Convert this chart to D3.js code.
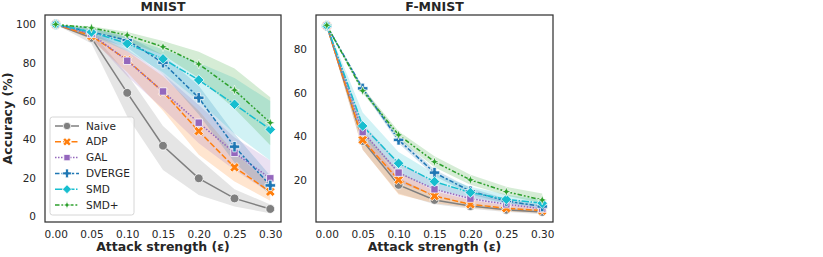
<!DOCTYPE html>
<html><head><meta charset="utf-8">
<script src="https://cdn.jsdelivr.net/npm/d3@7"></script>
<style>body{margin:0;background:#fff}svg{display:block}text{font-family:"DejaVu Sans",sans-serif;fill:#262626}</style>
</head><body><svg id="c" width="823" height="257"></svg>
<script>
const eps = [0.00, 0.05, 0.10, 0.15, 0.20, 0.25, 0.30];
const xTicks = [0.00, 0.05, 0.10, 0.15, 0.20, 0.25, 0.30];
const mnistYTicks = [0, 20, 40, 60, 80, 100];
const fmnistYTicks = [20, 40, 60, 80];
const methods = ["Naive", "ADP", "GAL", "DVERGE", "SMD", "SMD+"];

// MNIST means and bands
const mnistNaive   = [100, 93, 64.3, 36.7, 19.7, 9.2, 3.7];
const mnistNaiveLo = [100, 90, 52, 24, 11, 5, 1.5];
const mnistNaiveHi = [100, 96, 74, 47, 30, 14, 6];
const mnistADP     = [100, 94, 81.4, 64.8, 44.3, 25.4, 12.7];
const mnistADPLo   = [100, 92, 75, 55, 32, 18, 8];
const mnistADPHi   = [100, 96, 86, 73, 55, 33, 17];
const mnistGAL     = [100, 95, 81, 65, 48.7, 33, 19.7];
const mnistGALLo   = [100, 93, 73, 56, 38, 24, 12];
const mnistGALHi   = [100, 97, 87, 74, 58, 41, 29];
const mnistDVERGE  = [100, 96, 91.8, 80, 61.7, 36.2, 16];
const mnistDVERGELo= [100, 94, 88, 74, 53, 28, 11];
const mnistDVERGEHi= [100, 98, 94, 84, 68, 43, 21];
const mnistSMD     = [100, 96, 90, 82, 71, 58.3, 45.2];
const mnistSMDLo   = [100, 94, 86, 75, 60, 43, 29];
const mnistSMDHi   = [100, 98, 93, 87, 80, 72, 60];
const mnistSMDp    = [100, 98.2, 94.4, 88.3, 79.3, 65.7, 48.7];
const mnistSMDpLo  = [100, 97, 91, 84, 72, 56, 37];
const mnistSMDpHi  = [100, 99, 96, 91.3, 85.7, 77, 62];

// F-MNIST means and bands
const fmNaive    = [90.8, 38, 17.9, 11, 8.2, 6.5, 5.5];
const fmNaiveLo  = [90.5, 34, 14, 9, 7, 5.5, 4.5];
const fmNaiveHi  = [91.1, 42, 21, 13, 9.5, 7.5, 6.5];
const fmADP      = [90.8, 38.5, 20.2, 12.8, 9, 7.2, 6.1];
const fmADPLo    = [90.5, 34, 13.5, 9.5, 7.5, 5.8, 5];
const fmADPHi    = [91.1, 43, 24, 15, 11, 8.5, 7.2];
const fmGAL      = [90.8, 42.1, 23.5, 15.9, 11.6, 9, 7];
const fmGALLo    = [90.5, 38, 19, 13, 9.5, 7.5, 6];
const fmGALHi    = [91.1, 46, 28, 19, 14, 10.5, 8.5];
const fmDVERGE   = [90.8, 62.1, 38.5, 23.5, 15, 10.5, 8];
const fmDVERGELo = [90.5, 61, 37, 22, 13.5, 9.5, 7];
const fmDVERGEHi = [91.1, 63, 40, 25, 16.5, 11.5, 9];
const fmSMD      = [90.8, 44.9, 27.8, 19.4, 14.4, 11.3, 9.5];
const fmSMDLo    = [90.5, 40, 23, 16, 12, 9.5, 8];
const fmSMDHi    = [91.1, 51, 33, 23, 17, 13.5, 11];
const fmSMDp     = [91, 61, 40.8, 28.5, 20.2, 14.8, 11];
const fmSMDpLo   = [90.7, 60, 39, 26, 18, 13, 9.5];
const fmSMDpHi   = [91.3, 62.5, 42.5, 31, 22.5, 17, 14];

const colors = ["#7f7f7f", "#ff7f0e", "#9467bd", "#1f77b4", "#17becf", "#2ca02c"];
const dashes = ["", "6,2.25", "1.5,1.5", "4.5,1.9,2.25,1.9", "7.5,1.5,1.5,1.5", "4.5,1.9,1.9,1.9,1.9,1.9"];

const mnistSeries = [
  [mnistNaive, mnistNaiveLo, mnistNaiveHi], [mnistADP, mnistADPLo, mnistADPHi],
  [mnistGAL, mnistGALLo, mnistGALHi], [mnistDVERGE, mnistDVERGELo, mnistDVERGEHi],
  [mnistSMD, mnistSMDLo, mnistSMDHi], [mnistSMDp, mnistSMDpLo, mnistSMDpHi]];
const fmSeries = [
  [fmNaive, fmNaiveLo, fmNaiveHi], [fmADP, fmADPLo, fmADPHi],
  [fmGAL, fmGALLo, fmGALHi], [fmDVERGE, fmDVERGELo, fmDVERGEHi],
  [fmSMD, fmSMDLo, fmSMDHi], [fmSMDp, fmSMDpLo, fmSMDpHi]];

// marker shapes (radius r)
function poly(ctx, pts){ctx.moveTo(pts[0][0],pts[0][1]);for(let i=1;i<pts.length;i++)ctx.lineTo(pts[i][0],pts[i][1]);ctx.closePath();}
function crossPts(r, w, rot){
  const base=[[w,r],[w,w],[r,w],[r,-w],[w,-w],[w,-r],[-w,-r],[-w,-w],[-r,-w],[-r,w],[-w,w],[-w,r]];
  const c=Math.cos(rot), s=Math.sin(rot);
  return base.map(([x,y])=>[x*c-y*s, x*s+y*c]);
}
const shapes = [
  {draw(ctx,r){ctx.moveTo(r,0);ctx.arc(0,0,r,0,2*Math.PI);}},
  {draw(ctx,r){poly(ctx,crossPts(r*1.05,r*0.36,Math.PI/4));}},
  {draw(ctx,r){const a=r*0.8;poly(ctx,[[-a,-a],[a,-a],[a,a],[-a,a]]);}},
  {draw(ctx,r){poly(ctx,crossPts(r,r*0.33,0));}},
  {draw(ctx,r){const a=r*1.15;poly(ctx,[[0,-a],[a,0],[0,a],[-a,0]]);}},
  {draw(ctx,r){const a=r*1.05,b=a*0.38;const p=[];for(let i=0;i<8;i++){const ang=-Math.PI/2+i*Math.PI/4;const rr=i%2?b:a;p.push([rr*Math.cos(ang),rr*Math.sin(ang)]);}poly(ctx,p);}}
];
const msize = [4.4, 4.8, 4.6, 5.2, 4.6, 4.6];

const svg = d3.select("#c");

function panel(box, yDomain, yTicks, series, title, showYLabel, showLegend){
  const x = d3.scaleLinear().domain([-0.015, 0.315]).range([box.x0, box.x1]);
  const y = d3.scaleLinear().domain(yDomain).range([box.y1, box.y0]);
  const g = svg.append("g");
  const clipId = "clip"+title.replace(/\W/g,"");
  svg.append("clipPath").attr("id",clipId).append("rect")
    .attr("x",box.x0).attr("y",box.y0).attr("width",box.x1-box.x0).attr("height",box.y1-box.y0);
  const plot = g.append("g").attr("clip-path",`url(#${clipId})`);
  series.forEach((s,i)=>{
    const area = d3.area().x((d,j)=>x(eps[j])).y0((d,j)=>y(s[1][j])).y1((d,j)=>y(s[2][j]));
    plot.append("path").attr("d",area(eps)).attr("fill",colors[i]).attr("fill-opacity",0.2).attr("stroke","none");
  });
  series.forEach((s,i)=>{
    const line = d3.line().x((d,j)=>x(eps[j])).y(d=>y(d));
    plot.append("path").attr("d",line(s[0])).attr("fill","none").attr("stroke",colors[i])
      .attr("stroke-width",1.5).attr("stroke-dasharray",dashes[i]||null);
  });
  series.forEach((s,i)=>{
    const sym = d3.symbol().type(shapes[i]).size(msize[i]);
    plot.selectAll(null).data(s[0]).join("path")
      .attr("d",sym()).attr("transform",(d,j)=>`translate(${x(eps[j])},${y(d)})`)
      .attr("fill",colors[i]).attr("stroke","#fff").attr("stroke-width",0.75);
  });
  const xa = d3.axisBottom(x).tickValues(xTicks).tickFormat(d3.format(".2f")).tickSize(0).tickPadding(9);
  const ya = d3.axisLeft(y).tickValues(yTicks).tickFormat(d3.format("d")).tickSize(0).tickPadding(9);
  g.append("g").attr("transform",`translate(0,${box.y1})`).call(xa)
    .call(a=>a.select(".domain").remove())
    .selectAll("text").attr("font-size",10.5).attr("fill","#262626").attr("font-family","DejaVu Sans");
  g.append("g").attr("transform",`translate(${box.x0},0)`).call(ya)
    .call(a=>a.select(".domain").remove())
    .selectAll("text").attr("font-size",10.5).attr("fill","#262626").attr("font-family","DejaVu Sans");
  g.append("rect").attr("x",box.x0).attr("y",box.y0).attr("width",box.x1-box.x0).attr("height",box.y1-box.y0)
    .attr("fill","none").attr("stroke","#333").attr("stroke-width",1.25);
  g.append("text").attr("x",(box.x0+box.x1)/2).attr("y",box.y0-4).attr("text-anchor","middle")
    .attr("font-size",12.5).attr("font-weight","bold").text(title);
  g.append("text").attr("x",(box.x0+box.x1)/2).attr("y",251).attr("text-anchor","middle")
    .attr("font-size",12.5).attr("font-weight","bold").text("Attack strength (ε)");
  if(showYLabel){
    g.append("text").attr("transform",`translate(12,${(box.y0+box.y1)/2}) rotate(-90)`).attr("text-anchor","middle")
      .attr("font-size",12.5).attr("font-weight","bold").text("Accuracy (%)");
  }
  if(showLegend){
    const lg = g.append("g");
    lg.append("rect").attr("x",50).attr("y",117).attr("width",84).attr("height",98).attr("rx",2.5)
      .attr("fill","#fff").attr("fill-opacity",0.8).attr("stroke","#ccc").attr("stroke-width",0.8);
    methods.forEach((m,i)=>{
      const yy = 126 + i*15.8;
      lg.append("line").attr("x1",55).attr("x2",79).attr("y1",yy).attr("y2",yy).attr("stroke",colors[i])
        .attr("stroke-width",1.5).attr("stroke-dasharray",dashes[i]||null);
      lg.append("path").attr("d",d3.symbol().type(shapes[i]).size(msize[i]*0.85)()).attr("transform",`translate(67,${yy})`)
        .attr("fill",colors[i]).attr("stroke","#fff").attr("stroke-width",0.75);
      lg.append("text").attr("x",86).attr("y",yy).attr("dy","0.35em").attr("font-size",10.5).text(m);
    });
  }
}

panel({x0:45,x1:281,y0:15,y1:222}, [-3.1,104.9], mnistYTicks, mnistSeries, "MNIST", true, true);
panel({x0:316,x1:553,y0:15,y1:222}, [0.9,95.7], fmnistYTicks, fmSeries, "F-MNIST", false, false);
</script></body></html>
